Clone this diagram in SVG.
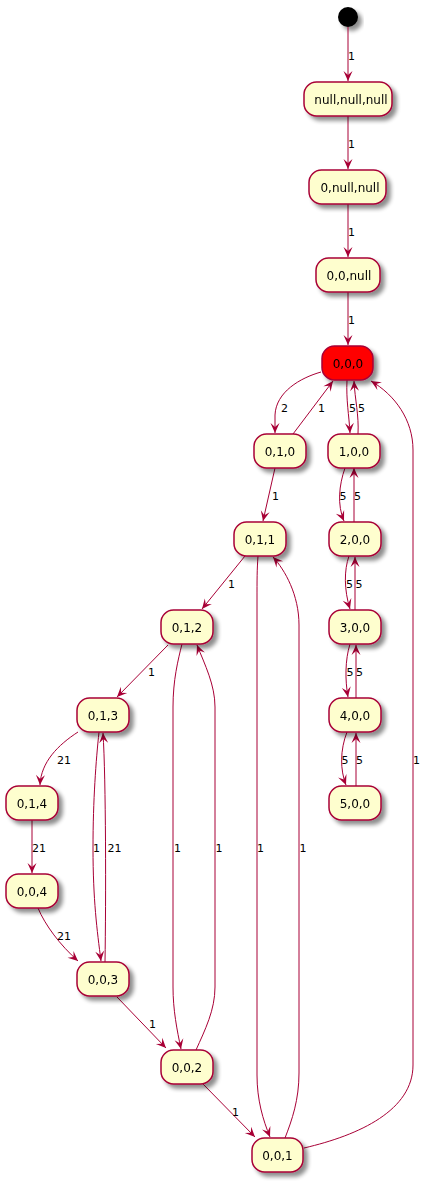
<svg xmlns="http://www.w3.org/2000/svg" width="433" height="1183" viewBox="0 0 433 1183">
<defs>
<filter id="sh" x="-20%" y="-20%" width="150%" height="160%">
<feGaussianBlur in="SourceAlpha" stdDeviation="2"/>
<feOffset dx="4" dy="4" result="b"/>
<feComponentTransfer><feFuncA type="linear" slope="0.45"/></feComponentTransfer>
<feMerge><feMergeNode/><feMergeNode in="SourceGraphic"/></feMerge>
</filter>
<marker id="ah" viewBox="-11 -6 12 12" refX="0" refY="0" markerWidth="12" markerHeight="12" orient="auto" markerUnits="userSpaceOnUse">
<path d="M0,0 L-10,-4.5 L-6,0 L-10,4.5 Z" fill="#A80036"/>
</marker>
</defs>
<style>
.n rect{fill:#FEFECE;stroke:#A80036;stroke-width:1.5}
.n text{font-family:"DejaVu Sans",sans-serif;font-size:12px;fill:#000;text-anchor:middle}
#edges path{fill:none;stroke:#A80036;stroke-width:1;marker-end:url(#ah)}
#labels text{font-family:"DejaVu Sans",sans-serif;font-size:11px;fill:#000}
</style>
<rect width="433" height="1183" fill="#fff"/>
<g id="start"><circle cx="348" cy="17" r="10" fill="#000" filter="url(#sh)"/></g>
<g id="edges">
<path d="M348,27 L348,81"/>
<path d="M348,116 L348,169"/>
<path d="M348,204 L348,257"/>
<path d="M348,292 L348,345"/>
<path d="M321,372 C300,378 276,392 275,415 L275,433"/>
<path d="M293,434 L333,381"/>
<path d="M347,380 C346,400 349,415 350,433"/>
<path d="M358,434 C359,415 355,400 354,381"/>
<path d="M304,1148 C360,1135 413,1110 413,1065 L413,450 C413,420 395,395 371,381"/>
<path d="M275,468 L263,521"/>
<path d="M345,468 C339,485 337,505 344,521"/>
<path d="M354,522 L354,468"/>
<path d="M245,556 L202,609"/>
<path d="M258,556 C257,570 257,580 257,600 L257,1075 C257,1100 263,1120 270,1137"/>
<path d="M285,1138 C292,1120 299,1100 299,1073 L299,625 C299,595 285,570 273,557"/>
<path d="M349,556 C344,570 344,590 350,609"/>
<path d="M355,610 L355,557"/>
<path d="M350,644 C345,660 345,680 348,697"/>
<path d="M356,698 L356,645"/>
<path d="M347,732 C340,750 340,770 346,785"/>
<path d="M356,786 L356,733"/>
<path d="M168,645 L117,697"/>
<path d="M182,644 C178,660 173,680 173,707 L173,987 C173,1010 177,1030 181,1049"/>
<path d="M196,1050 C205,1030 215,1010 215,987 L215,707 C215,685 205,665 197,645"/>
<path d="M78,732 C58,745 41,762 40,785"/>
<path d="M32,820 L32,873"/>
<path d="M99,732 C96,760 93,800 93,848 C93,900 97,930 101,961"/>
<path d="M105,962 C106,900 106,780 103,733"/>
<path d="M38,908 C45,925 60,945 78,961"/>
<path d="M117,997 L166,1048"/>
<path d="M202,1083 L255,1137"/>
</g>
<g id="labels">
<text x="348" y="60">1</text>
<text x="348" y="148">1</text>
<text x="348" y="236">1</text>
<text x="348" y="324">1</text>
<text x="281" y="412">2</text>
<text x="318" y="412">1</text>
<text x="349" y="412">5</text>
<text x="358" y="412">5</text>
<text x="272" y="500">1</text>
<text x="339.5" y="500">5</text>
<text x="354" y="500">5</text>
<text x="228" y="588">1</text>
<text x="346" y="588">5</text>
<text x="355.5" y="588">5</text>
<text x="148" y="676">1</text>
<text x="346.5" y="676">5</text>
<text x="356" y="676">5</text>
<text x="57" y="764">21</text>
<text x="341.5" y="764">5</text>
<text x="356" y="764">5</text>
<text x="413" y="764">1</text>
<text x="32" y="852">21</text>
<text x="93" y="852">1</text>
<text x="107.5" y="852">21</text>
<text x="174" y="852">1</text>
<text x="215.5" y="852">1</text>
<text x="257" y="852">1</text>
<text x="299.5" y="852">1</text>
<text x="57" y="940">21</text>
<text x="149" y="1028">1</text>
<text x="232" y="1116">1</text>
</g>
<g id="n_nullnullnull" class="n" filter="url(#sh)"><rect x="304" y="82" width="88" height="34" rx="12.5"/><text x="351" y="103.5">null,null,null</text></g>
<g id="n_0nullnull" class="n" filter="url(#sh)"><rect x="309" y="170" width="77" height="34" rx="12.5"/><text x="350" y="191.5">0,null,null</text></g>
<g id="n_00null" class="n" filter="url(#sh)"><rect x="316" y="258" width="64" height="34" rx="12.5"/><text x="349" y="279.5">0,0,null</text></g>
<g id="n_000" class="n" filter="url(#sh)"><rect x="322" y="346" width="51" height="34" rx="12.5" style="fill:#FF0000"/><text x="348" y="367.5">0,0,0</text></g>
<g id="n_010" class="n" filter="url(#sh)"><rect x="254" y="434" width="52" height="34" rx="12.5"/><text x="280" y="455.5">0,1,0</text></g>
<g id="n_100" class="n" filter="url(#sh)"><rect x="328" y="434" width="52" height="34" rx="12.5"/><text x="354" y="455.5">1,0,0</text></g>
<g id="n_011" class="n" filter="url(#sh)"><rect x="234" y="522" width="52" height="34" rx="12.5"/><text x="260" y="543.5">0,1,1</text></g>
<g id="n_200" class="n" filter="url(#sh)"><rect x="329" y="522" width="52" height="34" rx="12.5"/><text x="355" y="543.5">2,0,0</text></g>
<g id="n_012" class="n" filter="url(#sh)"><rect x="161" y="610" width="52" height="34" rx="12.5"/><text x="187" y="631.5">0,1,2</text></g>
<g id="n_300" class="n" filter="url(#sh)"><rect x="329" y="610" width="52" height="34" rx="12.5"/><text x="355" y="631.5">3,0,0</text></g>
<g id="n_013" class="n" filter="url(#sh)"><rect x="77" y="698" width="52" height="34" rx="12.5"/><text x="103" y="719.5">0,1,3</text></g>
<g id="n_400" class="n" filter="url(#sh)"><rect x="329" y="698" width="52" height="34" rx="12.5"/><text x="355" y="719.5">4,0,0</text></g>
<g id="n_014" class="n" filter="url(#sh)"><rect x="6" y="786" width="52" height="34" rx="12.5"/><text x="32" y="807.5">0,1,4</text></g>
<g id="n_500" class="n" filter="url(#sh)"><rect x="329" y="786" width="52" height="34" rx="12.5"/><text x="355" y="807.5">5,0,0</text></g>
<g id="n_004" class="n" filter="url(#sh)"><rect x="6" y="874" width="52" height="34" rx="12.5"/><text x="32" y="895.5">0,0,4</text></g>
<g id="n_003" class="n" filter="url(#sh)"><rect x="77" y="962" width="52" height="34" rx="12.5"/><text x="103" y="983.5">0,0,3</text></g>
<g id="n_002" class="n" filter="url(#sh)"><rect x="161" y="1050" width="52" height="34" rx="12.5"/><text x="187" y="1071.5">0,0,2</text></g>
<g id="n_001" class="n" filter="url(#sh)"><rect x="252" y="1138" width="51" height="34" rx="12.5"/><text x="277.5" y="1159.5">0,0,1</text></g>
</svg>
